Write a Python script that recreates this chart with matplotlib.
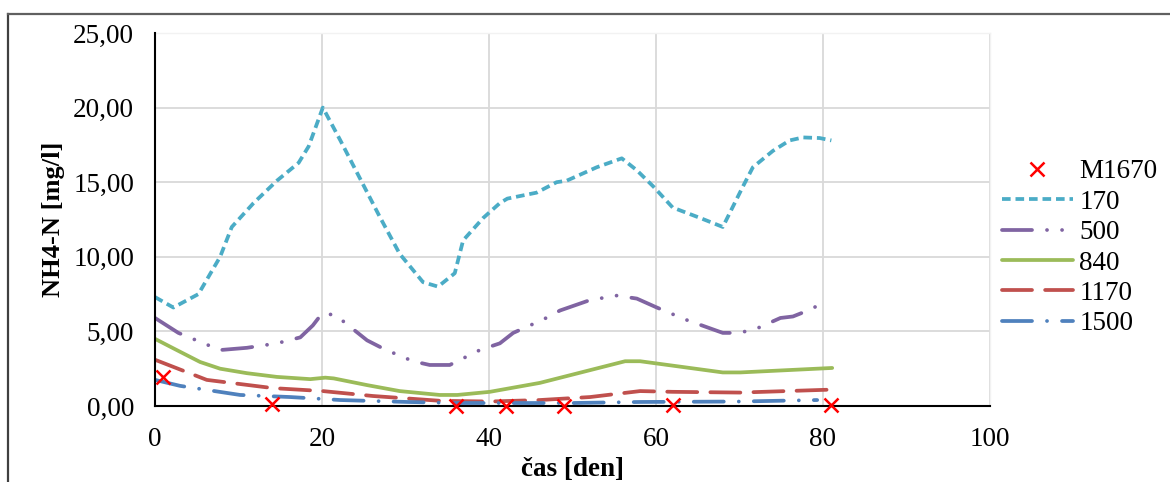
import matplotlib
matplotlib.use("Agg")
import matplotlib.pyplot as plt
from matplotlib.lines import Line2D
from matplotlib.ticker import FuncFormatter

# ---- data ----
x170 = [0, 2.2, 5.2, 7.8, 9.2, 11.8, 14.6, 17.2, 18.4, 20.1, 22.2, 26.9, 29.3, 32.1, 33.9,
        35.9, 36.9, 39.3, 41.3, 42.2, 45.7, 48.1, 49.3, 52.9, 55.9, 57.7, 59.7, 62.0, 65.3,
        68.0, 70.4, 71.6, 74.0, 76.0, 77.6, 79.6, 81.0]
y170 = [7.3, 6.6, 7.5, 10.0, 12.0, 13.6, 15.1, 16.3, 17.4, 20.0, 17.8, 12.7, 10.2, 8.3, 8.0,
        8.9, 11.1, 12.6, 13.6, 13.9, 14.3, 15.0, 15.1, 16.0, 16.6, 15.8, 14.7, 13.3, 12.6,
        12.0, 14.7, 16.0, 17.1, 17.8, 18.0, 17.96, 17.8]

x500 = [0, 2.8, 7.8, 11.0, 14.6, 17.4, 18.9, 20.0, 21.6, 25.4, 27.5, 30.9, 32.9, 35.3, 38.9,
        41.3, 42.9, 46.5, 48.5, 52.1, 55.3, 57.7, 60.1, 63.5, 68.0, 70.0, 72.1, 74.9, 76.4,
        78.2, 80.0]
y500 = [5.9, 4.9, 3.75, 3.9, 4.2, 4.6, 5.4, 6.2, 6.1, 4.4, 3.8, 3.0, 2.75, 2.75, 3.75,
        4.2, 4.9, 5.8, 6.4, 7.1, 7.4, 7.2, 6.6, 5.8, 4.9, 4.9, 5.2, 5.9, 6.0,
        6.4, 6.9]

x840 = [0, 2.6, 5.4, 7.8, 11.0, 14.6, 18.6, 20.4, 21.4, 25.4, 29.3, 34.1, 36.2, 40.1, 46.1,
        56.3, 58.1, 68.0, 70.1, 81.1]
y840 = [4.5, 3.75, 2.95, 2.5, 2.2, 1.95, 1.8, 1.9, 1.85, 1.4, 1.0, 0.74, 0.74, 0.95, 1.55,
        3.0, 3.0, 2.25, 2.25, 2.55]

x1170 = [0, 6.2, 14.1, 20.1, 26.1, 34.1, 40.1, 46.1, 52.1, 58.1, 62.0, 70.1, 81.1]
y1170 = [3.1, 1.75, 1.2, 1.0, 0.67, 0.35, 0.3, 0.4, 0.6, 1.0, 0.95, 0.9, 1.1]

x1500 = [0, 3.0, 10.2, 16.2, 22.2, 30.2, 36.2, 42.2, 50.0, 58.1, 70.0, 79.3]
y1500 = [1.75, 1.35, 0.74, 0.6, 0.4, 0.27, 0.2, 0.2, 0.2, 0.27, 0.3, 0.4]

xM = [0.9, 14, 36, 42, 49, 62, 81]
yM = [1.95, 0.13, 0.0, 0.0, 0.0, 0.07, 0.07]

labels = ["M1670", "170", "500", "840", "1170", "1500"]
xticks = [0, 20, 40, 60, 80, 100]
yticks = [0, 5, 10, 15, 20, 25]

# ---- style ----
plt.rcParams['font.family'] = ['Liberation Serif', 'DejaVu Serif']
fig = plt.figure(figsize=(11.7, 4.82), dpi=100)
ax = fig.add_axes([155/1170, 76/482, (990-155)/1170, (406-33)/482])

lw = 2.7
c170, c500, c840, c1170, c1500 = '#4BACC6', '#8064A2', '#9BBB59', '#C0504D', '#4F81BD'

ax.plot(xM, yM, linestyle='none', marker='x', color='#FF0000', markersize=10,
        markeredgewidth=1.8, clip_on=False, zorder=5, label=labels[0])
ax.plot(x170, y170, color=c170, lw=lw, linestyle=(0, (2.3, 1.3)),
        dash_capstyle='butt', label=labels[1])
ax.plot(x500, y500, color=c500, lw=lw, linestyle=(0, (8, 4, 0.01, 4, 0.01, 4)),
        dash_capstyle='round', label=labels[2])
ax.plot(x840, y840, color=c840, lw=lw, linestyle='-', solid_capstyle='round', label=labels[3])
ax.plot(x1170, y1170, color=c1170, lw=lw, linestyle=(0, (8, 3.5)),
        dash_capstyle='round', label=labels[4])
ax.plot(x1500, y1500, color=c1500, lw=lw, linestyle=(0, (8, 4, 0.01, 4)),
        dash_capstyle='round', label=labels[5])

ax.set_xlim(0, 100)
ax.set_ylim(0, 25)
ax.set_xticks(xticks)
ax.set_yticks(yticks)
ax.yaxis.set_major_formatter(FuncFormatter(lambda v, p: f"{v:.2f}".replace('.', ',')))
ax.tick_params(axis='both', length=0, labelsize=19.5)
ax.tick_params(axis='y', pad=15)
ax.tick_params(axis='x', pad=15)
ax.grid(True, color='#D9D9D9', lw=1.3)
ax.set_axisbelow(True)
for s in ['top', 'right']:
    ax.spines[s].set_color('#F2F2F2')
    ax.spines[s].set_linewidth(1)
for s in ['left', 'bottom']:
    ax.spines[s].set_color('black')
    ax.spines[s].set_linewidth(1.5)
    ax.spines[s].set_zorder(4)

ax.set_ylabel("NH4-N [mg/l]", fontsize=19, fontweight='bold', labelpad=6)
ax.set_xlabel("čas [den]", fontsize=19.5, fontweight='bold', labelpad=3.5)

leg = ax.legend(loc='center left', bbox_to_anchor=(1.0, 0.424), frameon=False,
                fontsize=19.5, handlelength=2.6, handletextpad=0.25, labelspacing=0.2,
                borderaxespad=0.05)

# outer frame (left and top)
fig.add_artist(Line2D([8/1170, 8/1170], [0, 468/482], color='#404040', lw=1.6))
fig.add_artist(Line2D([8/1170, 1.0], [468/482, 468/482], color='#606060', lw=1.6))

fig.savefig("out.png", dpi=100)
